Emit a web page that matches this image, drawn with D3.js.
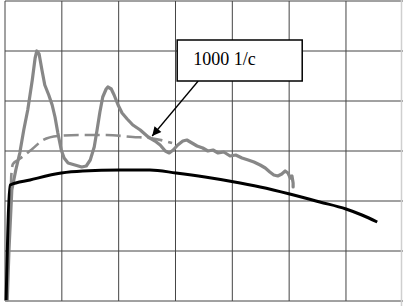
<!DOCTYPE html>
<html>
<head>
<meta charset="utf-8">
<script src="https://cdn.jsdelivr.net/npm/d3@7"></script>
<style>
  html, body { margin: 0; padding: 0; background: #fff; }
  svg { display: block; }
</style>
</head>
<body>
<div id="chart"></div>
<script>
// grid ticks (arbitrary units, one per grid cell)
var xTicks = [0, 1, 2, 3, 4, 5, 6];
var yTicks = [0, 1, 2, 3, 4, 5, 6];

// black model curve
var modelX = [0.02, 0.09, 0.44, 0.99, 1.37, 2.02, 2.55, 3.01, 3.52, 3.99, 4.49, 5.01, 5.54, 6.00, 6.28, 6.55];
var modelY = [0.02, 2.32, 2.42, 2.56, 2.60, 2.62, 2.62, 2.56, 2.48, 2.39, 2.28, 2.14, 1.98, 1.84, 1.72, 1.58];

// gray measured curve
var measX = [0.04, 0.07, 0.12, 0.19, 0.26, 0.33, 0.40, 0.48, 0.53, 0.56, 0.60, 0.65, 0.70, 0.77, 0.83, 0.88, 0.93, 0.99,
  1.04, 1.11, 1.23, 1.35, 1.43, 1.50, 1.57, 1.62, 1.67, 1.72, 1.78, 1.81, 1.87, 1.92, 1.99, 2.06, 2.15, 2.25, 2.38,
  2.52, 2.64, 2.73, 2.82, 2.89, 2.96, 3.04, 3.13, 3.20, 3.29, 3.38, 3.48, 3.57, 3.66, 3.75, 3.85, 3.96, 4.06, 4.17,
  4.28, 4.38, 4.49, 4.58, 4.66, 4.73, 4.80, 4.87, 4.93, 4.98, 5.02, 5.05, 5.07, 5.07];
var measY = [0.02, 1.02, 2.22, 2.62, 2.96, 3.42, 3.82, 4.42, 4.86, 5.00, 4.94, 4.62, 4.32, 4.12, 3.92, 3.68, 3.36, 3.02,
  2.86, 2.76, 2.72, 2.68, 2.70, 2.82, 3.08, 3.42, 3.78, 4.08, 4.24, 4.28, 4.24, 4.12, 3.92, 3.76, 3.64, 3.52, 3.42,
  3.28, 3.20, 3.12, 3.00, 2.96, 3.02, 3.12, 3.20, 3.22, 3.16, 3.10, 3.06, 3.00, 3.02, 2.96, 2.98, 2.90, 2.92, 2.86,
  2.82, 2.78, 2.72, 2.66, 2.58, 2.52, 2.50, 2.54, 2.60, 2.56, 2.46, 2.50, 2.36, 2.28];

// gray dashed curve (1000 1/c)
var dashX = [0.105, 0.11, 0.14, 0.23, 0.35, 0.48, 0.67, 0.93, 1.32, 1.79, 2.25, 2.55, 2.94];
var dashY = [2.26, 2.50, 2.74, 2.82, 2.92, 3.04, 3.22, 3.30, 3.32, 3.32, 3.28, 3.26, 3.16];

var label = "1000 1/c";

var w = 403, h = 306;

var x = d3.scaleLinear().domain([0, 7]).range([5, 402.8]);
var y = d3.scaleLinear().domain([0, 6]).range([301, 1]);

var svg = d3.select("#chart").append("svg")
  .attr("width", w)
  .attr("height", h);

// grid
svg.selectAll("line.vg")
  .data(xTicks)
  .enter().append("line")
  .attr("class", "vg")
  .attr("x1", function(d) { return x(d); })
  .attr("x2", function(d) { return x(d); })
  .attr("y1", y(6))
  .attr("y2", y(0))
  .attr("stroke", "#444")
  .attr("stroke-width", 1);

svg.selectAll("line.hg")
  .data(yTicks)
  .enter().append("line")
  .attr("class", "hg")
  .attr("x1", x(0))
  .attr("x2", w)
  .attr("y1", function(d) { return y(d); })
  .attr("y2", function(d) { return y(d); })
  .attr("stroke", "#444")
  .attr("stroke-width", 1);

// faint right border
svg.append("line")
  .attr("x1", 401.5).attr("x2", 401.5)
  .attr("y1", 0).attr("y2", h)
  .attr("stroke", "#cfcfcf")
  .attr("stroke-width", 1.5);

function pts(xs, ys) {
  return xs.map(function(v, i) { return [v, ys[i]]; });
}

var smooth = d3.line()
  .x(function(d) { return x(d[0]); })
  .y(function(d) { return y(d[1]); })
  .curve(d3.curveMonotoneX);

var straight = d3.line()
  .x(function(d) { return x(d[0]); })
  .y(function(d) { return y(d[1]); })
  .curve(d3.curveLinear);

svg.append("path")
  .attr("d", smooth(pts(dashX, dashY)))
  .attr("fill", "none")
  .attr("stroke", "#8c8c8c")
  .attr("stroke-width", 2.6)
  .attr("stroke-dasharray", "15,6");

svg.append("path")
  .attr("d", straight(pts(measX, measY)))
  .attr("fill", "none")
  .attr("stroke", "#878787")
  .attr("stroke-width", 3.2)
  .attr("stroke-linejoin", "round")
  .attr("stroke-linecap", "round");

svg.append("path")
  .attr("d", smooth(pts(modelX, modelY)))
  .attr("fill", "none")
  .attr("stroke", "#000")
  .attr("stroke-width", 3)
  .attr("stroke-linejoin", "round");

// annotation
svg.append("defs").append("marker")
  .attr("id", "arr")
  .attr("viewBox", "0 0 10 10")
  .attr("refX", 10).attr("refY", 5)
  .attr("markerWidth", 12).attr("markerHeight", 9)
  .attr("markerUnits", "userSpaceOnUse")
  .attr("orient", "auto")
  .append("path")
  .attr("d", "M0,0L10,5L0,10z")
  .attr("fill", "#000");

svg.append("line")
  .attr("x1", x(3.40)).attr("y1", y(4.40))
  .attr("x2", x(2.59)).attr("y2", y(3.30))
  .attr("stroke", "#000")
  .attr("stroke-width", 1.3)
  .attr("marker-end", "url(#arr)");

svg.append("rect")
  .attr("x", x(3.03)).attr("y", y(5.22))
  .attr("width", x(5.23) - x(3.03))
  .attr("height", y(4.40) - y(5.22))
  .attr("fill", "#fff")
  .attr("stroke", "#000")
  .attr("stroke-width", 1.5);

svg.append("text")
  .attr("x", x(3.03) + 16)
  .attr("y", y(4.72))
  .attr("font-family", "'Liberation Serif', 'Times New Roman', serif")
  .attr("font-size", 18)
  .attr("fill", "#000")
  .text(label);
</script>
</body>
</html>
